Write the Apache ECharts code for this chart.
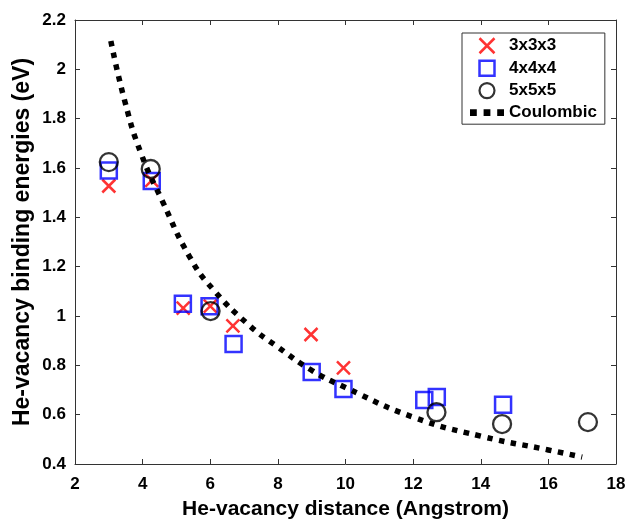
<!DOCTYPE html>
<html>
<head>
<meta charset="utf-8">
<script src="https://cdn.jsdelivr.net/npm/echarts@6/dist/echarts.min.js"></script>
<style>html,body{margin:0;padding:0;background:#fff}#c{width:630px;height:522px}</style>
</head>
<body>
<div id="c"></div>
<script>
// Data
var s333 = [[3.0,1.527],[4.27,1.55],[5.2,1.032],[6.0,1.04],[6.67,0.96],[8.98,0.925],[9.94,0.79]];
var s444 = [[3.0,1.59],[4.27,1.547],[5.19,1.05],[5.98,1.04],[6.69,0.886],[9.0,0.773],[9.94,0.704],[12.33,0.659],[12.7,0.672],[14.66,0.64]];
var s555 = [[3.0,1.624],[4.24,1.596],[6.01,1.02],[12.69,0.61],[14.63,0.562],[17.17,0.57]];
var coul = [[3.06,2.115],[3.48,1.867],[3.95,1.66],[4.57,1.47],[5.39,1.24],[6.07,1.11],[7.17,0.96],[8.0,0.874],[9.0,0.78],[10.0,0.71],[12.0,0.59],[14.0,0.513],[16.0,0.457],[17.0,0.428]];
var names = ['3x3x3','4x4x4','5x5x5','Coulombic'];
var xTitle = 'He-vacancy distance (Angstrom)';
var yTitle = 'He-vacancy binding energies (eV)';

var FONT = '"Liberation Sans", Arial, sans-serif';
var chart = echarts.init(document.getElementById('c'), null, {renderer:'canvas'});
var axisCommon = {
  axisLine:{show:true, lineStyle:{color:'#333', width:1}},
  axisTick:{show:true, inside:true, length:5, lineStyle:{color:'#333'}},
  splitLine:{show:false}
};
var X_PATH = 'path://M0,0L10,10M10,0L0,10';
var SQ_PATH = 'path://M0,0L10,0L10,10L0,10Z';
var DOTS_PATH = 'path://M0,0h5v5h-5zM10,0h5v5h-5zM20,0h5v5h-5z';
chart.setOption({
  animation:false,
  grid:{left:75, right:14, top:20, bottom:58, containLabel:false, outerBoundsMode:'none'},
  legend:{
    orient:'vertical', left:462, top:33, itemGap:5, itemWidth:34, itemHeight:15,
    borderColor:'#333', borderWidth:1, padding:[4,8,3,8], backgroundColor:'#fff',
    textStyle:{fontFamily:FONT, fontWeight:'bold', fontSize:17, color:'#000'},
    data:[
      {name:names[0], icon:X_PATH, itemStyle:{color:'rgba(0,0,0,0)', borderColor:'#ff0000', borderWidth:2.5}},
      {name:names[1], icon:SQ_PATH, itemStyle:{color:'rgba(0,0,0,0)', borderColor:'#0000ff', borderWidth:2.5}},
      {name:names[2], icon:'circle', itemStyle:{color:'rgba(0,0,0,0)', borderColor:'#000', borderWidth:2.2}},
      {name:names[3], icon:DOTS_PATH, itemStyle:{color:'#000', borderWidth:0}, lineStyle:{width:0}}
    ]
  },
  xAxis:[
    Object.assign({type:'value', min:2, max:18, interval:2, position:'bottom',
      name:xTitle, nameLocation:'middle', nameGap:35,
      nameTextStyle:{fontFamily:FONT, fontWeight:'bold', fontSize:21, color:'#000'},
      axisLabel:{fontFamily:FONT, fontWeight:'bold', fontSize:17, color:'#000', margin:12}}, axisCommon),
    Object.assign({type:'value', min:2, max:18, interval:2, position:'top', axisLabel:{show:false}}, axisCommon)
  ],
  yAxis:[
    Object.assign({type:'value', min:0.4, max:2.2, interval:0.2, position:'left',
      name:yTitle, nameLocation:'middle', nameGap:41, nameMoveOverlap:false,
      nameTextStyle:{fontFamily:FONT, fontWeight:'bold', fontSize:23, color:'#000'},
      axisLabel:{fontFamily:FONT, fontWeight:'bold', fontSize:17, color:'#000', margin:9,
        formatter:function(v){return String(Math.round(v*10)/10);}}}, axisCommon),
    Object.assign({type:'value', min:0.4, max:2.2, interval:0.2, position:'right', axisLabel:{show:false}}, axisCommon)
  ],
  series:[
    {name:names[0], type:'scatter', data:s333, symbol:X_PATH, symbolSize:13,
      itemStyle:{color:'rgba(0,0,0,0)', borderColor:'#ff0000', borderWidth:2.5}},
    {name:names[1], type:'scatter', data:s444, symbol:'rect', symbolSize:16,
      itemStyle:{color:'rgba(0,0,0,0)', borderColor:'#0000ff', borderWidth:2.5}},
    {name:names[2], type:'scatter', data:s555, symbol:'circle', symbolSize:18,
      itemStyle:{color:'rgba(0,0,0,0)', borderColor:'#000', borderWidth:2.3}},
    {name:names[3], type:'line', data:coul, smooth:true, symbol:'none', showSymbol:false,
      itemStyle:{color:'#000'},
      lineStyle:{color:'#000', width:5.5, type:[5.5,6.5], cap:'butt'}}
  ]
});
</script>
</body>
</html>
